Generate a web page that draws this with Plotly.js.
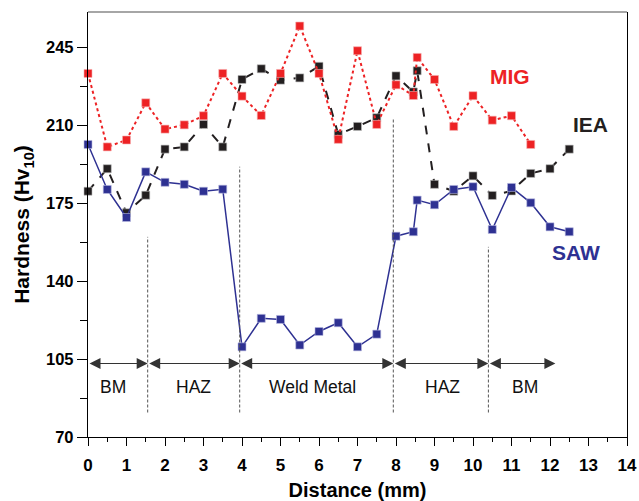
<!DOCTYPE html>
<html>
<head>
<meta charset="utf-8">
<script src="https://cdn.plot.ly/plotly-3.0.1.min.js"></script>
<style>
  html, body { margin: 0; padding: 0; background: #fff; }
  #chart { width: 639px; height: 501px; }
</style>
</head>
<body>
<div id="chart"></div>
<script>
// ---- data ----
const migX = [0,0.5,1,1.5,2,2.5,3,3.5,4,4.5,5,5.5,6,6.5,7,7.5,8,8.45,8.55,9,9.5,10,10.5,11,11.5];
const migY = [233.3,200.3,203.4,220.1,208.3,210.2,214.3,233.3,223.1,214.4,233.3,254.6,233.3,203.7,243.5,210.4,228.2,223.4,240.5,230.6,209.5,223.3,212.3,214.3,201.4];

const ieaX = [0,0.5,1,1.5,2,2.5,3,3.5,4,4.5,5,5.5,6,6.5,7,7.5,8,8.45,8.55,9,9.5,10,10.5,11,11.5,12,12.5];
const ieaY = [180.4,190.5,170.7,178.6,199.3,200.3,210.4,200.3,230.6,235.4,230.3,231.3,236.5,205.9,209.5,213.4,232.2,225.0,234.5,183.5,180.4,187.3,178.5,180.5,188.4,190.5,199.3];

const sawX = [0,0.5,1,1.5,2,2.5,3,3.5,4,4.5,5,5.5,6,6.5,7,7.5,8,8.45,8.55,9,9.5,10,10.5,11,11.5,12,12.5];
const sawY = [201.4,181.2,168.6,189.1,184.4,183.5,180.4,181.3,110.5,123.3,122.8,111.3,117.4,121.3,110.5,116.2,160.2,162.2,176.4,174.3,181.2,182.4,163.2,182.1,175.2,164.4,162.2];

const xTicks = [0,1,2,3,4,5,6,7,8,9,10,11,12,13,14];
const yTicks = [70,105,140,175,210,245];

// zone boundaries (mm) and zone names
const zoneBounds = [0, 1.55, 3.94, 7.93, 10.4, 12.14];
const zoneNames = ['BM', 'HAZ', 'Weld Metal', 'HAZ', 'BM'];
const zoneLabelX = [0.66, 2.73, 5.84, 9.22, 11.35];
const dividerTop = [159.9, 191.4, 213.5, 155.4];

// ---- styling ----
const FONT = 'Liberation Sans, Arial, Helvetica, sans-serif';
const RED = '#ed2224', BLACK = '#231f20', NAVY = '#2e3192';

const traces = [
  { x: ieaX, y: ieaY, mode: 'lines+markers', name: 'IEA', cliponaxis: false,
    line: { color: BLACK, width: 2, dash: 'dash' },
    marker: { symbol: 'square', size: 8, color: BLACK, line: { color: '#bbbbbb', width: 0.6 } } },
  { x: migX, y: migY, mode: 'lines+markers', name: 'MIG', cliponaxis: false,
    line: { color: RED, width: 2, dash: 'dot' },
    marker: { symbol: 'square', size: 8, color: RED, line: { color: '#f7b0b0', width: 0.6 } } },
  { x: sawX, y: sawY, mode: 'lines+markers', name: 'SAW', cliponaxis: false,
    line: { color: NAVY, width: 1.5 },
    marker: { symbol: 'square', size: 8, color: NAVY, line: { color: '#b8bbe0', width: 0.6 } } }
];

const arrowY = 103, labelY = 92.3, dividerBottom = 81;
const annotations = [];
const shapes = [];

for (let i = 0; i < zoneNames.length; i++) {
  annotations.push({
    x: zoneBounds[i + 1], y: arrowY, ax: zoneBounds[i], ay: arrowY,
    xref: 'x', yref: 'y', axref: 'x', ayref: 'y',
    text: '', showarrow: true, arrowside: 'end+start',
    arrowhead: 2, arrowsize: 2, arrowwidth: 1.1, arrowcolor: '#333333',
    standoff: 0, startstandoff: 0
  });
  annotations.push({
    x: zoneLabelX[i], y: labelY, xref: 'x', yref: 'y', showarrow: false,
    text: zoneNames[i], font: { family: FONT, size: 17.5, color: '#111111' }
  });
}
for (let i = 0; i < dividerTop.length; i++) {
  shapes.push({
    type: 'line', xref: 'x', yref: 'y',
    x0: zoneBounds[i + 1], x1: zoneBounds[i + 1], y0: dividerBottom, y1: dividerTop[i],
    line: { color: '#555555', width: 1, dash: '3px,2px' }
  });
}
// top frame line (grey)
shapes.push({ type: 'line', xref: 'paper', yref: 'paper', x0: 0, x1: 1, y0: 1, y1: 1,
  line: { color: '#888888', width: 1.5 } });

annotations.push({ x: 10.96, y: 232.1, xref: 'x', yref: 'y', showarrow: false,
  text: '<b>MIG</b>', font: { family: FONT, size: 21, color: RED } });
annotations.push({ x: 13.04, y: 210.5, xref: 'x', yref: 'y', showarrow: false,
  text: '<b>IEA</b>', font: { family: FONT, size: 21, color: BLACK } });
annotations.push({ x: 12.68, y: 153, xref: 'x', yref: 'y', showarrow: false,
  text: '<b>SAW</b>', font: { family: FONT, size: 21, color: NAVY } });

const layout = {
  width: 639, height: 501,
  margin: { l: 88, r: 12, t: 12, b: 64 },
  paper_bgcolor: '#ffffff', plot_bgcolor: '#ffffff',
  showlegend: false,
  font: { family: FONT, color: '#000000' },
  xaxis: {
    range: [0, 14], tickvals: xTicks, ticktext: xTicks.map(String),
    ticks: 'outside', ticklen: 8, tickwidth: 1, tickcolor: '#000',
    minor: { dtick: 0.5, tick0: 0, ticks: 'outside', ticklen: 4, tickcolor: '#000' },
    showline: true, linecolor: '#000', linewidth: 1.2, showgrid: false, zeroline: false,
    tickfont: { family: FONT, size: 17, color: '#000', weight: 'bold' },
    ticklabelstandoff: 4,
    title: { text: '<b>Distance (mm)</b>', font: { family: FONT, size: 20, color: '#000' }, standoff: 14 },
    automargin: false
  },
  yaxis: {
    range: [70, 260.9], tickvals: yTicks, ticktext: yTicks.map(String),
    ticks: 'outside', ticklen: 10, tickwidth: 1, tickcolor: '#000',
    minor: { dtick: 17.5, tick0: 70, ticks: 'outside', ticklen: 7, tickcolor: '#000' },
    showline: true, linecolor: '#000', linewidth: 1.2, mirror: true,
    showgrid: false, zeroline: false,
    tickfont: { family: FONT, size: 16.5, color: '#000', weight: 'bold' },
    title: { text: '<b>Hardness (Hv<sub>10</sub>)</b>', font: { family: FONT, size: 21, color: '#000' }, standoff: 10 },
    automargin: false
  },
  annotations: annotations,
  shapes: shapes
};

Plotly.newPlot('chart', traces, layout, { displayModeBar: false, staticPlot: true });
</script>
</body>
</html>
